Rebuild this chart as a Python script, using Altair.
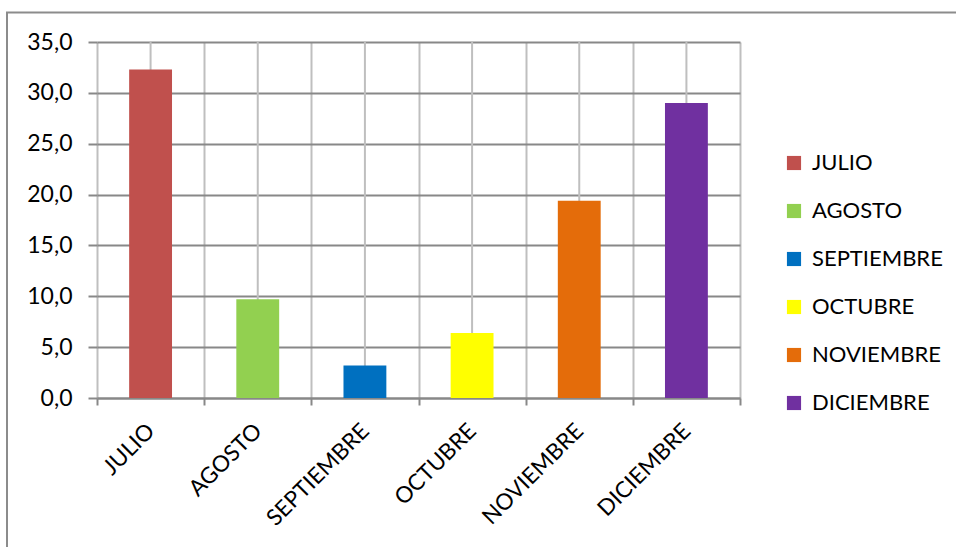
import altair as alt
import pandas as pd

# Monthly values for the second half of the year
months = ["JULIO", "AGOSTO", "SEPTIEMBRE", "OCTUBRE", "NOVIEMBRE", "DICIEMBRE"]
values = [32.3, 9.7, 3.2, 6.4, 19.4, 29.0]
colors = ["#C0504D", "#92D050", "#0070C0", "#FFFF00", "#E46C0A", "#7030A0"]
y_ticks = [0, 5, 10, 15, 20, 25, 30, 35]

df = pd.DataFrame({"mes": months, "valor": values})

FONT = "Lato"
W, H = 643, 356
PAD_L, PAD_T = 97, 42

x_enc = alt.X(
    "mes:N",
    sort=months,
    title=None,
    scale=alt.Scale(paddingInner=0, paddingOuter=0),
    axis=alt.Axis(
        tickBand="extent",
        grid=True,
        gridColor="#BFBFBF",
        gridWidth=2,
        domainColor="#888888",
        domainWidth=2,
        tickColor="#888888",
        tickWidth=2,
        tickSize=7,
        labelAngle=-45,
        labelAlign="right",
        labelBaseline="middle",
        labelPadding=22,
        labelFont=FONT,
        labelFontSize=22.5,
        labelColor="#000000",
    ),
)

y_enc = alt.Y(
    "valor:Q",
    title=None,
    scale=alt.Scale(domain=[0, 35], nice=False),
    axis=alt.Axis(
        values=y_ticks,
        domain=False,
        grid=True,
        gridColor="#888888",
        gridWidth=2,
        tickColor="#888888",
        tickWidth=2,
        tickSize=9,
        labelPadding=16,
        labelFont=FONT,
        labelFontSize=23,
        labelColor="#000000",
        labelExpr="replace(format(datum.value, '.1f'), '.', ',')",
    ),
)

base = alt.Chart(df)

# vertical guide line through the middle of each category
center_lines = base.mark_rule(color="#BFBFBF", strokeWidth=2).encode(x=x_enc)

bars = base.mark_bar(width=alt.RelativeBandSize(0.4)).encode(
    x=x_enc,
    y=y_enc,
    color=alt.Color(
        "mes:N",
        sort=months,
        scale=alt.Scale(domain=months, range=colors),
        legend=alt.Legend(
            title=None,
            orient="none",
            legendX=686,
            legendY=110,
            symbolType="square",
            symbolSize=200,
            symbolStrokeWidth=0,
            labelFont=FONT,
            labelFontSize=22,
            labelColor="#000000",
            labelOffset=7,
            rowPadding=26,
        ),
    ),
)

# outer frame of the chart
frame = alt.Chart(pd.DataFrame({"k": [0]})).mark_rect(
    fill=None, stroke="#8C8C8C", strokeWidth=2
).encode(
    x=alt.value(7 - PAD_L),
    x2=alt.value(1000),
    y=alt.value(12.5 - PAD_T),
    y2=alt.value(700),
)

chart = (
    alt.layer(frame, center_lines, bars)
    .properties(
        width=W,
        height=H,
        autosize=alt.AutoSizeParams(type="none"),
        padding={"left": PAD_L, "top": PAD_T, "right": 956 - PAD_L - W, "bottom": 547 - PAD_T - H},
        background="white",
    )
    .configure_view(stroke=None)
)

chart.save("out.html", embed_options={"renderer": "svg", "actions": False})
